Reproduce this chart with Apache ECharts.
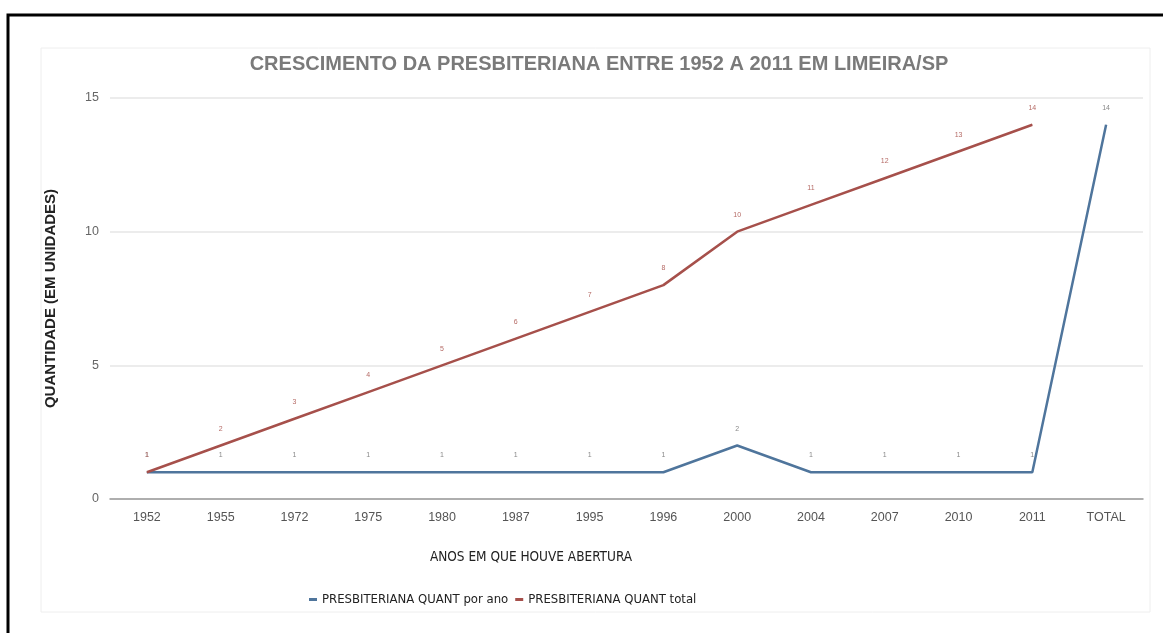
<!DOCTYPE html>
<html>
<head>
<meta charset="utf-8">
<script src="https://cdn.jsdelivr.net/npm/echarts@6/dist/echarts.min.js"></script>
<style>
html,body{margin:0;padding:0;background:#fff;}
#chart{width:1163px;height:633px;}
</style>
</head>
<body>
<div id="chart"></div>
<script>
const categories = ['1952','1955','1972','1975','1980','1987','1995','1996','2000','2004','2007','2010','2011','TOTAL'];
const porAno = [1,1,1,1,1,1,1,1,2,1,1,1,1,14];
const total = [1,2,3,4,5,6,7,8,10,11,12,13,14,null];
const yTicks = [0,5,10,15];

const chart = echarts.init(document.getElementById('chart'), null, {renderer:'canvas'});
const font = 'Liberation Sans, Arial, sans-serif';
const narrow = '"Liberation Sans Narrow", "Arial Narrow", "DejaVu Sans Condensed", sans-serif';
chart.setOption({
  backgroundColor:'#fff',
  animation:false,
  title:{
    text:'CRESCIMENTO DA PRESBITERIANA ENTRE 1952 A 2011 EM LIMEIRA/SP',
    left:594, top:49, textAlign:'center',
    textStyle:{fontFamily:font,fontSize:20,fontWeight:'bold',color:'#7a7a7a'}
  },
  legend:{
    left:304, top:588, itemGap:7,
    icon:'rect', itemWidth:8, itemHeight:3,
    textStyle:{fontFamily:narrow,fontSize:13,color:'#222'},
    data:['PRESBITERIANA QUANT por ano','PRESBITERIANA QUANT total']
  },
  grid:{left:110, right:20, top:98, bottom:134},
  xAxis:{
    type:'category', data:categories, boundaryGap:true,
    axisLine:{lineStyle:{color:'#999',width:1.5}},
    axisTick:{show:false},
    axisLabel:{fontFamily:font,fontSize:12.5,color:'#555',margin:12}
  },
  yAxis:{
    type:'value', min:0, max:15, interval:5,
    name:'QUANTIDADE (EM UNIDADES)', nameLocation:'middle', nameRotate:90, nameGap:52,
    nameTextStyle:{fontFamily:font,fontSize:15,fontWeight:'bold',color:'#222'},
    axisLine:{show:false}, axisTick:{show:false},
    axisLabel:{fontFamily:font,fontSize:12.5,color:'#666',margin:11,
      formatter:v=>yTicks.includes(v)?String(v):''},
    splitLine:{lineStyle:{color:'#e6e6e6',width:1.5}}
  },
  series:[
    {name:'PRESBITERIANA QUANT por ano', type:'line', data:porAno,
      color:'#4f759c', symbol:'circle', symbolSize:0.5, showSymbol:true,
      lineStyle:{width:2.5,color:'#4f759c'},
      label:{show:true,position:'top',distance:13,fontSize:7,color:'#888',fontFamily:font}},
    {name:'PRESBITERIANA QUANT total', type:'line', data:total,
      color:'#a6504b', symbol:'circle', symbolSize:0.5, showSymbol:true,
      lineStyle:{width:2.5,color:'#a6504b'},
      label:{show:true,position:'top',distance:13,fontSize:7,color:'#b56a65',fontFamily:font}}
  ],
  graphic:[
    {type:'rect', shape:{x:8,y:15,width:1170,height:640}, style:{fill:null,stroke:'#000',lineWidth:3}, z:100},
    {type:'rect', shape:{x:41,y:48,width:1109,height:564}, style:{fill:null,stroke:'#eeeeee',lineWidth:1}, z:-1},
    {type:'text', x:531, y:557, style:{text:'ANOS EM QUE HOUVE ABERTURA', fontFamily:narrow, fontSize:13.5, fill:'#222', textAlign:'center', textVerticalAlign:'middle'}}
  ]
});
</script>
</body>
</html>
